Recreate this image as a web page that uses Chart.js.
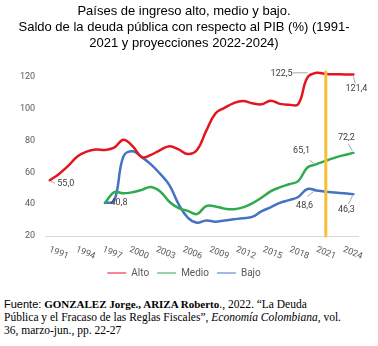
<!DOCTYPE html>
<html>
<head>
<meta charset="utf-8">
<script src="https://cdn.jsdelivr.net/npm/chart.js@4.4.0/dist/chart.umd.min.js"></script>
<style>
body{margin:0;background:#fff;width:378px;height:346px;overflow:hidden}
#wrap{position:relative;width:378px;height:288px}
#source{position:absolute;left:4px;top:298px;width:372px;font:11.5px/13.2px "Liberation Serif","Times New Roman",serif;color:#000}
#source .sans{font-family:"Liberation Sans",Arial,sans-serif;font-size:11px}
#source b{font-size:11px}
</style>
</head>
<body>
<div id="wrap"><canvas id="chart"></canvas></div>
<div id="source"><span class="sans">Fuente:</span> <b>GONZALEZ Jorge., ARIZA Roberto</b>., 2022. “La Deuda<br>Pública y el Fracaso de las Reglas Fiscales”, <i>Economía Colombiana</i>, vol.<br>36, marzo-jun., pp. 22-27</div>
<script>
// data
const years = ['1991','1992','1993','1994','1995','1996','1997','1998','1999','2000',
  '2001','2002','2003','2004','2005','2006','2007','2008','2009','2010',
  '2011','2012','2013','2014','2015','2016','2017','2018','2019','2020',
  '2021','2022','2023','2024'];
const xTickLabels = ['1991','1994','1997','2000','2003','2006','2009','2012','2015','2018','2021','2024'];
const yTicks = [20,40,60,80,100,120];

const alto = [55.0,59,64,70,73,74.3,74,75.5,80.5,76.5,
  69.5,71,74,76.4,74.4,71.5,74,86,97,100.5,
  103.5,104.8,103.4,102.7,105,103,102.5,102.8,119.5,122.5,
  121.8,121.6,121.5,121.4];
const medio = [null,null,null,null,null,null,40.8,47.5,46.8,47.5,
  49,50.8,48,41.5,37.5,35.8,33.8,38.8,38.6,37.2,
  36.8,38,40.5,44,48,50.5,52.5,54.5,63,65.1,
  67.3,69.2,70.8,72.2];
const bajo = [null,null,null,null,null,null,40.8,42,70,73.3,
  69.5,65,59,52,40,31.5,28.3,29.8,29,29.8,
  30.5,31.2,32,35.5,38,40.8,42.5,44.5,49.5,48.6,
  47.8,47.3,46.8,46.3];

const markerYear = '2021';
const markerRange = [20, 123];

// labelled points: dataset, year, text offset, leader line
const notes = [
  {ds:1, year:'1991', dx:16, dy:3, lead:[1,1,5,3]},
  {ds:3, year:'1997', dx:14, dy:0, lead:null},
  {ds:1, year:'2020', dx:-35, dy:1, lead:[-24,0,-9,0]},
  {ds:1, year:'2024', dx:3, dy:14, lead:[0,2,2,9]},
  {ds:2, year:'2024', dx:-7, dy:-15, lead:[-1,-2,-5,-9]},
  {ds:2, year:'2020', dx:-15, dy:-13, lead:[-7,-4,-3,-1]},
  {ds:3, year:'2020', dx:-12, dy:15, lead:[-9,6,-3,1]},
  {ds:3, year:'2024', dx:-7, dy:16, lead:[-1,2,-5,10]}
];

const fmt = v => v.toFixed(1).replace('.', ',');

const pointNotes = {
  id: 'pointNotes',
  afterDatasetsDraw(chart) {
    const {ctx} = chart;
    ctx.save();
    ctx.font = '9px Roboto';
    ctx.textAlign = 'center';
    ctx.textBaseline = 'middle';
    notes.forEach(n => {
      const i = years.indexOf(n.year);
      const pt = chart.getDatasetMeta(n.ds).data[i];
      const v = chart.data.datasets[n.ds].data[i];
      if (n.lead) {
        ctx.strokeStyle = '#a6a6a6';
        ctx.lineWidth = 1;
        ctx.beginPath();
        ctx.moveTo(pt.x + n.lead[0], pt.y + n.lead[1]);
        ctx.lineTo(pt.x + n.lead[2], pt.y + n.lead[3]);
        ctx.stroke();
      }
      ctx.fillStyle = '#404040';
      ctx.fillText(fmt(v), pt.x + n.dx, pt.y + n.dy);
    });
    ctx.restore();
  }
};

// rotated year labels (clockwise, as in the original)
const yearTicks = {
  id: 'yearTicks',
  afterDraw(chart) {
    const {ctx, chartArea} = chart;
    const x = chart.scales.x;
    const first = x.getPixelForValue(0);
    ctx.save();
    ctx.font = '9px Roboto';
    ctx.fillStyle = '#595959';
    ctx.textAlign = 'center';
    ctx.textBaseline = 'middle';
    xTickLabels.forEach(lab => {
      const px = x.getPixelForValue(years.indexOf(lab));
      const cx = px + 9 - (px - first) * 0.032;
      ctx.save();
      ctx.translate(cx, chartArea.bottom + 17);
      ctx.rotate(22 * Math.PI / 180);
      ctx.fillText(lab, 0, 0);
      ctx.restore();
    });
    ctx.restore();
  }
};

const ctx = document.getElementById('chart').getContext('2d');
const chart = new Chart(ctx, {
  type: 'line',
  data: {
    labels: years,
    datasets: [
      {label:'marker', data:[{x:markerYear,y:markerRange[0]},{x:markerYear,y:markerRange[1]}],
        borderColor:'#f7c02e', borderWidth:3, pointRadius:0, tension:0},
      {label:'Alto', data:alto, borderColor:'#e3161f', backgroundColor:'#e3161f'},
      {label:'Medio', data:medio, borderColor:'#2eaa4f', backgroundColor:'#2eaa4f'},
      {label:'Bajo', data:bajo, borderColor:'#4472c4', backgroundColor:'#4472c4'}
    ]
  },
  options: {
    responsive: true,
    maintainAspectRatio: false,
    animation: false,
    layout: {padding:{left:10, right:20, top:0, bottom:0}},
    elements: {
      line: {borderWidth:2.5, tension:0.4, borderCapStyle:'round'},
      point: {radius:0}
    },
    plugins: {
      title: {
        display: true,
        text: ['Países de ingreso alto, medio y bajo.',
               'Saldo de la deuda pública con respecto al PIB (%) (1991-',
               '2021 y proyecciones 2022-2024)'],
        color: '#000',
        font: {family:'"Liberation Sans", Arial, sans-serif', size:13, weight:'normal', lineHeight:1.2},
        padding: {top:4, bottom:26}
      },
      legend: {
        position: 'bottom',
        labels: {
          filter: item => item.text !== 'marker',
          usePointStyle: true,
          pointStyle: 'line',
          pointStyleWidth: 19,
          padding: 8,
          color: '#595959',
          font: {family:'Roboto', size:10}
        }
      },
      tooltip: {enabled:false}
    },
    scales: {
      x: {
        offset: true,
        grid: {display:false},
        border: {display:true, color:'#d9d9d9', width:1},
        ticks: {display:false},
        afterFit: s => { s.height = 24; }
      },
      y: {
        min: yTicks[0],
        max: yTicks[yTicks.length - 1],
        grid: {display:false, drawTicks:false},
        border: {display:false},
        afterBuildTicks: s => { s.ticks = yTicks.map(v => ({value:v})); },
        ticks: {padding:10, color:'#595959', font:{family:'Roboto', size:9}}
      }
    },
    datasets: {line: {clip:false}}
  },
  plugins: [pointNotes, yearTicks]
});
</script>
</body>
</html>
